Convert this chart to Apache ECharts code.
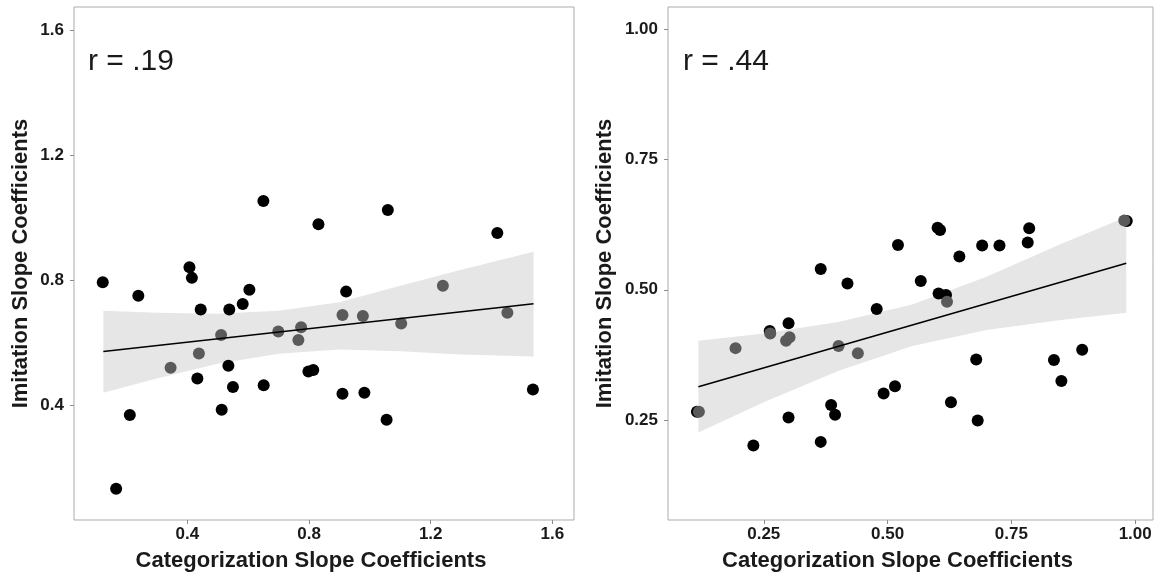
<!DOCTYPE html>
<html>
<head>
<meta charset="utf-8">
<script src="https://cdn.jsdelivr.net/npm/echarts@6/dist/echarts.min.js"></script>
<style>
  html, body { margin: 0; padding: 0; background: #fff; }
  #main { width: 1166px; height: 583px; }
</style>
</head>
<body>
<div id="main"></div>
<script>
// left panel: [categorization slope, imitation slope]
const leftBlack = [
  [0.650, 1.053], [0.831, 0.979], [1.059, 1.024], [1.419, 0.951],
  [0.122, 0.793], [0.407, 0.841], [0.415, 0.807], [0.239, 0.750],
  [0.604, 0.769], [0.444, 0.706], [0.538, 0.706], [0.582, 0.723],
  [0.922, 0.763], [0.535, 0.526], [0.433, 0.485], [0.550, 0.458],
  [0.651, 0.463], [0.798, 0.507], [0.814, 0.512], [0.910, 0.436],
  [0.982, 0.439], [1.055, 0.353], [1.536, 0.450], [0.211, 0.368],
  [0.513, 0.385], [0.166, 0.132]
];
const leftGray = [
  [0.345, 0.519], [0.438, 0.565], [0.511, 0.624], [0.699, 0.635],
  [0.774, 0.649], [0.765, 0.608], [0.910, 0.688], [0.977, 0.685],
  [1.103, 0.661], [1.240, 0.782], [1.452, 0.695]
];
const leftFit = [[0.124, 0.571], [1.538, 0.724]];
const leftBandX = [0.124, 0.3, 0.5, 0.7, 0.9, 1.1, 1.3, 1.538];
const leftBandLow = [0.439, 0.485, 0.532, 0.564, 0.578, 0.572, 0.562, 0.555];
const leftBandHigh = [0.702, 0.695, 0.692, 0.702, 0.729, 0.782, 0.833, 0.891];
const leftTicks = [0.4, 0.8, 1.2, 1.6];

// right panel
const rightBlack = [
  [0.115, 0.266], [0.229, 0.201], [0.262, 0.421], [0.300, 0.436],
  [0.300, 0.255], [0.365, 0.540], [0.365, 0.208], [0.386, 0.279],
  [0.394, 0.260], [0.419, 0.512], [0.478, 0.463], [0.492, 0.301],
  [0.515, 0.315], [0.521, 0.586], [0.567, 0.517], [0.601, 0.619],
  [0.606, 0.615], [0.603, 0.493], [0.618, 0.490], [0.628, 0.284],
  [0.645, 0.564], [0.679, 0.366], [0.682, 0.249], [0.691, 0.585],
  [0.726, 0.585], [0.783, 0.591], [0.786, 0.618], [0.836, 0.365],
  [0.851, 0.325], [0.893, 0.385], [0.983, 0.632]
];
const rightGray = [
  [0.119, 0.266], [0.193, 0.388], [0.263, 0.416], [0.295, 0.402],
  [0.302, 0.409], [0.401, 0.392], [0.440, 0.378], [0.620, 0.477],
  [0.978, 0.633]
];
const rightFit = [[0.118, 0.314], [0.982, 0.551]];
const rightBandX = [0.118, 0.25, 0.4, 0.55, 0.7, 0.85, 0.982];
const rightBandLow = [0.226, 0.284, 0.344, 0.392, 0.423, 0.442, 0.456];
const rightBandHigh = [0.402, 0.416, 0.438, 0.472, 0.525, 0.588, 0.640];
const rightTicks = [0.25, 0.5, 0.75, 1.0];

const FONT = 'Liberation Sans, Arial, sans-serif';
const INK = '#1a1a1a';

function axis(grid, min, max, ticks, digits, name, gap, isX) {
  return {
    gridIndex: grid,
    type: 'value',
    min: min,
    max: max,
    axisLine: { show: false },
    splitLine: { show: false },
    axisTick: {
      show: true,
      length: 4,
      customValues: ticks,
      lineStyle: { color: '#8c8c8c', width: 1 }
    },
    axisLabel: {
      customValues: ticks,
      formatter: v => v.toFixed(digits),
      fontSize: 17,
      fontWeight: 'bold',
      fontFamily: FONT,
      color: INK,
      margin: isX ? 6 : 10
    },
    name: name,
    nameLocation: 'middle',
    nameGap: gap,
    nameTextStyle: {
      fontSize: 22,
      fontWeight: 'bold',
      fontFamily: FONT,
      color: INK,
      padding: isX ? [0, 26, 0, 0] : 0
    }
  };
}

// confidence band as one polygon: upper edge left->right, lower edge back
function band(i, xs, low, high) {
  return {
    type: 'custom', xAxisIndex: i, yAxisIndex: i, z: 1, silent: true,
    data: xs.map((x, k) => [x, low[k], high[k]]),
    renderItem: (params, api) => {
      if (params.dataIndex !== 0) return null;
      const pts = [];
      xs.forEach((x, k) => pts.push(api.coord([x, high[k]])));
      for (let k = xs.length - 1; k >= 0; k--) pts.push(api.coord([xs[k], low[k]]));
      return { type: 'polygon', shape: { points: pts }, style: { fill: '#e6e6e6' } };
    }
  };
}

function dots(i, data, color) {
  return {
    type: 'scatter', xAxisIndex: i, yAxisIndex: i, z: 3,
    symbolSize: 12, itemStyle: { color: color, opacity: 1 },
    data: data
  };
}

function fit(i, data) {
  return {
    type: 'line', xAxisIndex: i, yAxisIndex: i,
    symbol: 'none', z: 4,
    lineStyle: { color: '#000', width: 1.5 },
    data: data
  };
}

const chart = echarts.init(document.getElementById('main'));
chart.setOption({
  animation: false,
  backgroundColor: '#fff',
  grid: [
    { left: 74, top: 7, width: 500, height: 513, show: true, borderColor: '#ababab', borderWidth: 1 },
    { left: 668, top: 7, width: 485, height: 513, show: true, borderColor: '#ababab', borderWidth: 1 }
  ],
  xAxis: [
    axis(0, 0.0275, 1.671, leftTicks, 1, 'Categorization Slope Coefficients', 30, true),
    axis(1, 0.0566, 1.036, rightTicks, 2, 'Categorization Slope Coefficients', 30, true)
  ],
  yAxis: [
    axis(0, 0.032, 1.674, leftTicks, 1, 'Imitation Slope Coefficients', 42, false),
    axis(1, 0.058, 1.043, rightTicks, 2, 'Imitation Slope Coefficients', 52, false)
  ],
  graphic: [
    { type: 'text', left: 88, top: 47, style: { text: 'r = .19', fontSize: 30, fontFamily: FONT, fill: INK } },
    { type: 'text', left: 683, top: 47, style: { text: 'r = .44', fontSize: 30, fontFamily: FONT, fill: INK } }
  ],
  series: [
    band(0, leftBandX, leftBandLow, leftBandHigh),
    dots(0, leftBlack, '#000'),
    dots(0, leftGray, '#5a5a5a'),
    fit(0, leftFit),
    band(1, rightBandX, rightBandLow, rightBandHigh),
    dots(1, rightBlack, '#000'),
    dots(1, rightGray, '#5a5a5a'),
    fit(1, rightFit)
  ]
});
</script>
</body>
</html>
